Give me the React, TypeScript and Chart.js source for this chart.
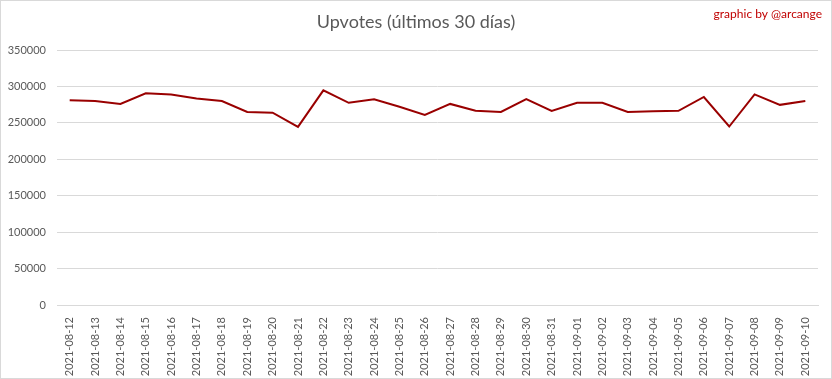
import React, { useEffect, useRef } from "react";
import { Chart, registerables } from "chart.js";

Chart.register(...registerables);

const categories = [
  "2021-08-12", "2021-08-13", "2021-08-14", "2021-08-15", "2021-08-16", "2021-08-17",
  "2021-08-18", "2021-08-19", "2021-08-20", "2021-08-21", "2021-08-22", "2021-08-23",
  "2021-08-24", "2021-08-25", "2021-08-26", "2021-08-27", "2021-08-28", "2021-08-29",
  "2021-08-30", "2021-08-31", "2021-09-01", "2021-09-02", "2021-09-03", "2021-09-04",
  "2021-09-05", "2021-09-06", "2021-09-07", "2021-09-08", "2021-09-09", "2021-09-10",
];

const upvotes = [
  281000, 280000, 276000, 290500, 289000, 283500,
  280000, 265000, 264000, 244500, 294600, 277500,
  282500, 272000, 261000, 276000, 266500, 265000,
  282500, 266500, 277500, 277500, 265000, 266000,
  266500, 285500, 245000, 289000, 274700, 280000,
];

const titleText = "Upvotes (últimos 30 días)";
const creditText = "graphic by @arcange";
const FONT = "Lato, 'Open Sans', sans-serif";

const decorPlugin = {
  id: "decor",
  afterDraw(chart: any) {
    const ctx = chart.ctx;
    ctx.save();
    ctx.strokeStyle = "#d9d9d9";
    ctx.lineWidth = 1;
    ctx.strokeRect(0.5, 0.5, chart.width - 1, chart.height - 1);
    ctx.fillStyle = "#595959";
    ctx.font = `18px ${FONT}`;
    ctx.textAlign = "center";
    ctx.textBaseline = "middle";
    ctx.fillText(titleText, 416, 22);
    ctx.fillStyle = "#c00000";
    ctx.font = `12px ${FONT}`;
    ctx.textAlign = "right";
    ctx.fillText(creditText, 822, 14);
    ctx.restore();
  },
};

export default function App() {
  const ref = useRef<HTMLCanvasElement>(null);
  useEffect(() => {
    const chart = new Chart(ref.current!, {
      type: "line",
      data: {
        labels: categories,
        datasets: [
          {
            data: upvotes,
            borderColor: "#990000",
            backgroundColor: "#990000",
            borderWidth: 2,
            pointRadius: 0,
            tension: 0,
          },
        ],
      },
      options: {
        animation: false,
        responsive: false,
        layout: { padding: { top: 50, left: 0, right: 14, bottom: 0 } },
        plugins: { legend: { display: false }, title: { display: false }, tooltip: { enabled: false } },
        scales: {
          x: {
            offset: true,
            grid: { display: false },
            border: { display: true, color: "#d9d9d9" },
            ticks: {
              color: "#595959",
              font: { size: 11, family: FONT },
              maxRotation: 90,
              minRotation: 90,
              autoSkip: false,
              padding: 4,
            },
            afterFit: (s: any) => { s.height = 74; },
          },
          y: {
            min: 0,
            max: 350000,
            grid: { color: "#d9d9d9", drawTicks: false },
            border: { display: false },
            ticks: {
              stepSize: 50000,
              color: "#595959",
              font: { size: 11, family: FONT },
              padding: 11,
              callback: (v: any) => String(v),
            },
            afterFit: (s: any) => { s.width = 57; },
          },
        },
      },
      plugins: [decorPlugin],
    });
    return () => chart.destroy();
  }, []);
  return (
    <div style={{ position: "fixed", left: 0, top: 0, width: 832, height: 379, background: "#fff" }}>
      <canvas ref={ref} width={832} height={379} style={{ width: 832, height: 379 }} />
    </div>
  );
}
